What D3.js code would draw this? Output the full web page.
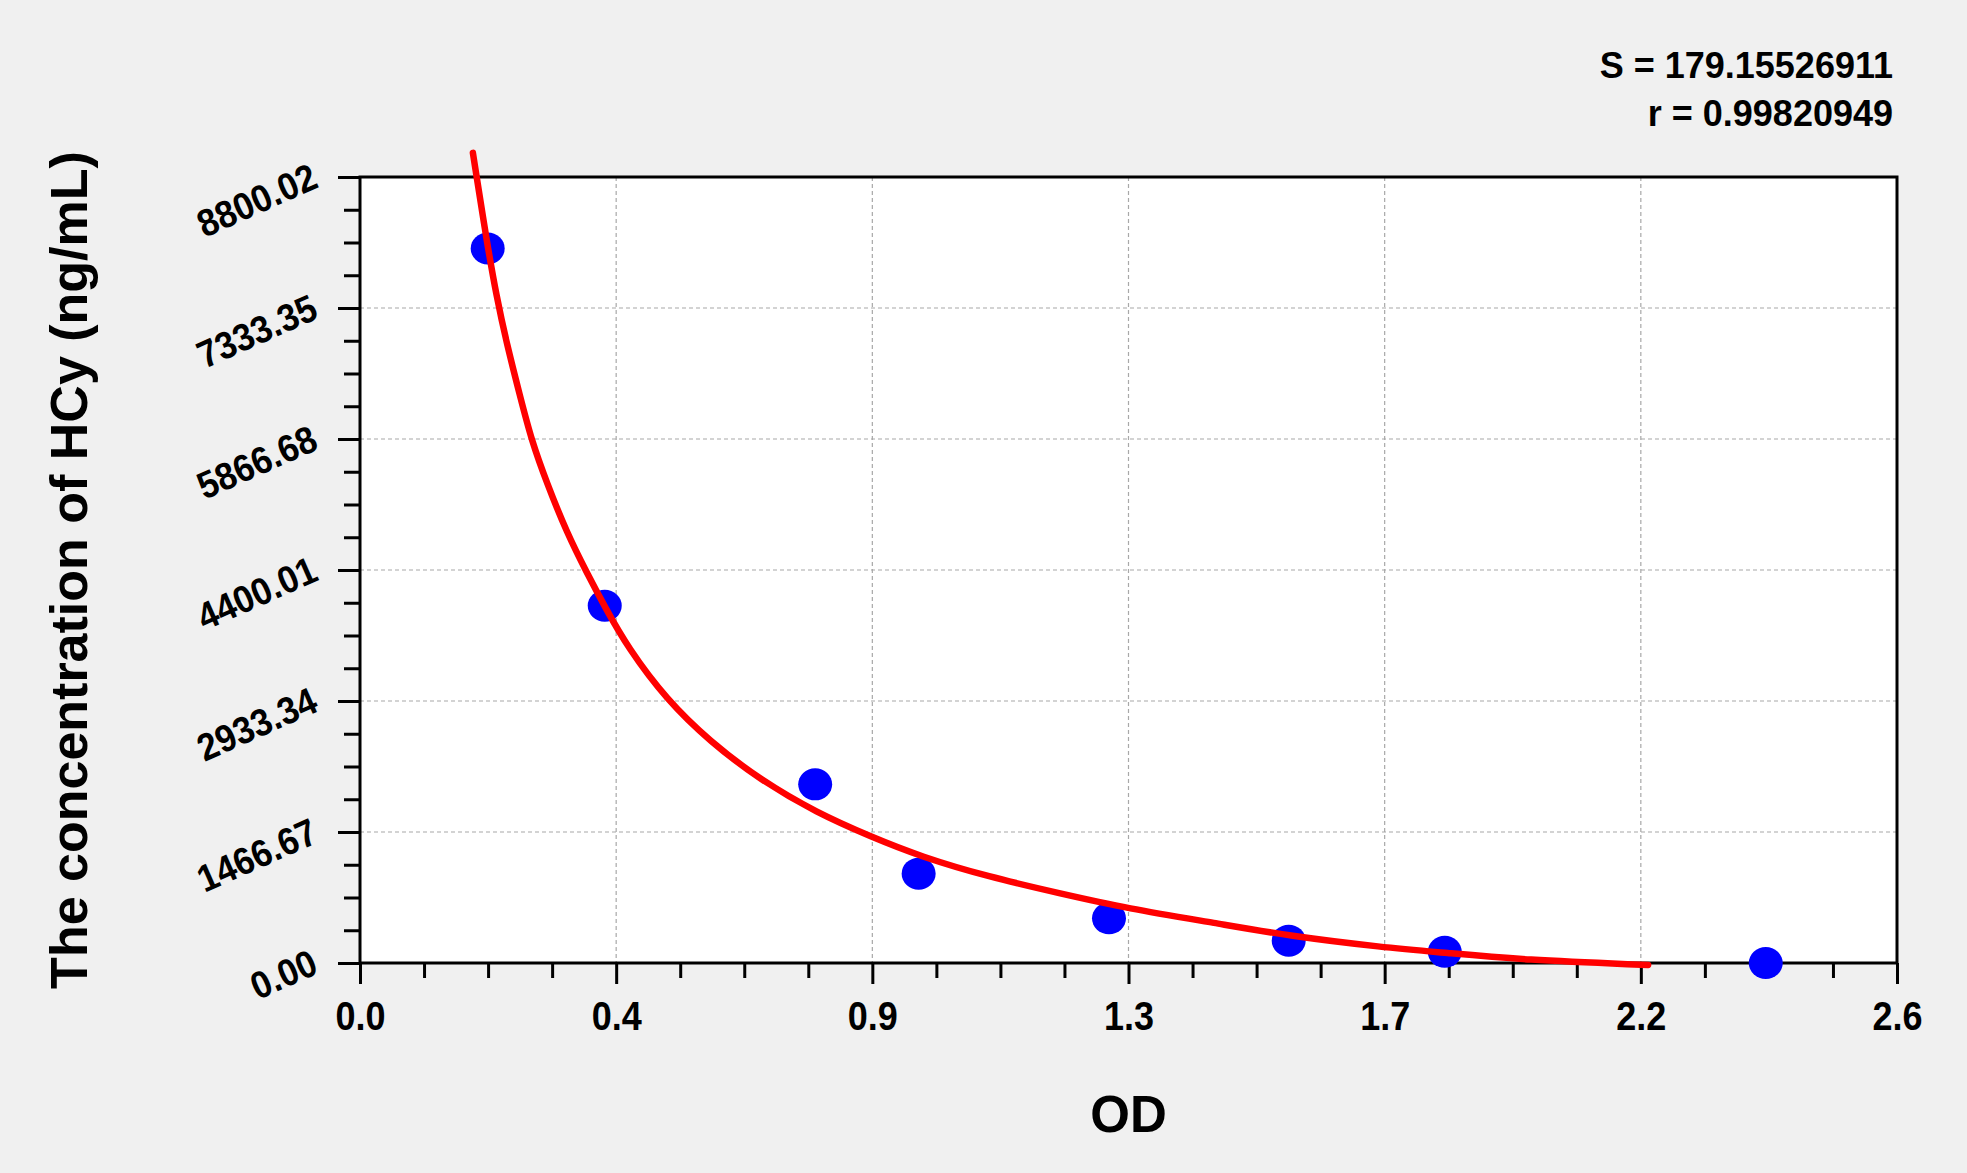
<!DOCTYPE html>
<html>
<head>
<meta charset="utf-8">
<script src="https://cdn.jsdelivr.net/npm/d3@7"></script>
<style>
  html, body { margin: 0; padding: 0; background: #f0f0f0; }
  svg { display: block; font-family: Arial, "Liberation Sans", sans-serif; }
</style>
</head>
<body>
<div id="chart"></div>
<script>
// standard points (OD vs concentration)
const odValues = [0.216, 0.414, 0.770, 0.945, 1.267, 1.571, 1.835, 2.378];
const concValues = [8000, 4000, 2000, 1000, 500, 250, 125, 0];

// fitted curve
const fitOD = [0.191, 0.214, 0.231, 0.248, 0.271, 0.290, 0.316, 0.350, 0.384, 0.414, 0.453,
  0.519, 0.592, 0.677, 0.773, 0.864, 0.949, 1.063, 1.184, 1.297, 1.449, 1.572, 1.731,
  1.835, 1.968, 2.179];
const fitConc = [9070, 8095, 7460, 6940, 6340, 5855, 5375, 4815, 4365, 3990, 3530,
  2945, 2480, 2050, 1680, 1415, 1190, 965, 780, 612, 445, 302, 175,
  115, 34, -22];

const xTickLabels = ["0.0", "0.4", "0.9", "1.3", "1.7", "2.2", "2.6"];
const yTickLabels = ["0.00", "1466.67", "2933.34", "4400.01", "5866.68", "7333.35", "8800.02"];
const xMax = 2.6;
const yMax = 8800.02;

const statLines = ["S = 179.15526911", "r = 0.99820949"];
const xTitle = "OD";
const yTitle = "The concentration of HCy (ng/mL)";

const width = 1967;
const height = 1173;
const margin = { top: 177, left: 360, bottom: 210, right: 70 };
const iwidth = width - margin.left - margin.right;
const iheight = height - margin.top - margin.bottom;

const svg = d3.select("#chart").append("svg")
  .attr("width", width)
  .attr("height", height);

svg.append("rect").attr("width", width).attr("height", height).attr("fill", "#f0f0f0");

const g = svg.append("g").attr("transform", `translate(${margin.left},${margin.top})`);

const x = d3.scaleLinear().domain([0, xMax]).range([0, iwidth]);
const y = d3.scaleLinear().domain([0, yMax]).range([iheight, 0]);

const nMajor = xTickLabels.length - 1;
const xTicks = d3.range(nMajor + 1).map(i => i * xMax / nMajor);
const yTicks = d3.range(nMajor + 1).map(i => i * yMax / nMajor);
const xMinor = d3.range(nMajor * 4 + 1).filter(i => i % 4 !== 0).map(i => i * xMax / (nMajor * 4));
const yMinor = d3.range(nMajor * 4 + 1).filter(i => i % 4 !== 0).map(i => i * yMax / (nMajor * 4));

g.append("rect")
  .attr("width", iwidth)
  .attr("height", iheight)
  .attr("fill", "#ffffff");

// dashed grid
g.append("g").selectAll("line")
  .data(xTicks.slice(1, -1))
  .join("line")
  .attr("x1", d => x(d)).attr("x2", d => x(d))
  .attr("y1", 0).attr("y2", iheight)
  .attr("stroke", "#a8a8a8").attr("stroke-width", 1.2).attr("stroke-dasharray", "4,3");

g.append("g").selectAll("line")
  .data(yTicks.slice(1, -1))
  .join("line")
  .attr("y1", d => y(d)).attr("y2", d => y(d))
  .attr("x1", 0).attr("x2", iwidth)
  .attr("stroke", "#a8a8a8").attr("stroke-width", 1.2).attr("stroke-dasharray", "4,3");

// minor ticks
const xMinorAxis = g.append("g")
  .attr("transform", `translate(0,${iheight})`)
  .call(d3.axisBottom(x).tickValues(xMinor).tickSize(15).tickFormat(""));
const yMinorAxis = g.append("g")
  .call(d3.axisLeft(y).tickValues(yMinor).tickSize(16).tickFormat(""));

// major ticks
const xAxis = g.append("g")
  .attr("transform", `translate(0,${iheight})`)
  .call(d3.axisBottom(x).tickValues(xTicks).tickSize(21).tickFormat((d, i) => xTickLabels[i]));
const yAxis = g.append("g")
  .call(d3.axisLeft(y).tickValues(yTicks).tickSize(22).tickFormat((d, i) => yTickLabels[i]));

[xMinorAxis, yMinorAxis, xAxis, yAxis].forEach(a => {
  a.select(".domain").remove();
  a.selectAll(".tick line").attr("stroke", "#000").attr("stroke-width", 3);
});

xAxis.selectAll(".tick text")
  .attr("y", 67)
  .attr("dy", null)
  .attr("transform", "scale(0.9,1)")
  .attr("fill", "#000")
  .style("font-size", "40px")
  .style("font-weight", "bold");

yAxis.selectAll(".tick text")
  .attr("x", null)
  .attr("dy", null)
  .attr("text-anchor", "end")
  .attr("transform", "translate(-40,9) rotate(-24) scale(0.92,1)")
  .attr("fill", "#000")
  .style("font-size", "38px")
  .style("font-weight", "bold");

// plot frame
g.append("rect")
  .attr("width", iwidth)
  .attr("height", iheight)
  .attr("fill", "none")
  .attr("stroke", "#000")
  .attr("stroke-width", 3);

// standard points
g.append("g").selectAll("ellipse")
  .data(odValues.map((d, i) => ({ od: d, conc: concValues[i] })))
  .join("ellipse")
  .attr("cx", d => x(d.od))
  .attr("cy", d => y(d.conc))
  .attr("rx", 17)
  .attr("ry", 16)
  .attr("fill", "#0000ff");

// fitted curve
const line = d3.line()
  .x(d => x(d.od))
  .y(d => y(d.conc))
  .curve(d3.curveBasis);

g.append("path")
  .datum(fitOD.map((d, i) => ({ od: d, conc: fitConc[i] })))
  .attr("d", line)
  .attr("fill", "none")
  .attr("stroke", "#ff0000")
  .attr("stroke-width", 6.5)
  .attr("stroke-linecap", "round");

// titles
svg.append("text")
  .attr("x", margin.left + iwidth / 2)
  .attr("y", 1132)
  .attr("text-anchor", "middle")
  .style("font-size", "51px")
  .style("font-weight", "bold")
  .text(xTitle);

svg.append("text")
  .attr("transform", `translate(87,${margin.top + iheight / 2}) rotate(-90)`)
  .attr("text-anchor", "middle")
  .style("font-size", "52px")
  .style("font-weight", "bold")
  .text(yTitle);

svg.append("g").selectAll("text")
  .data(statLines)
  .join("text")
  .attr("x", 1893)
  .attr("y", (d, i) => 78 + i * 48)
  .attr("text-anchor", "end")
  .style("font-size", "36px")
  .style("font-weight", "bold")
  .text(d => d);
</script>
</body>
</html>
